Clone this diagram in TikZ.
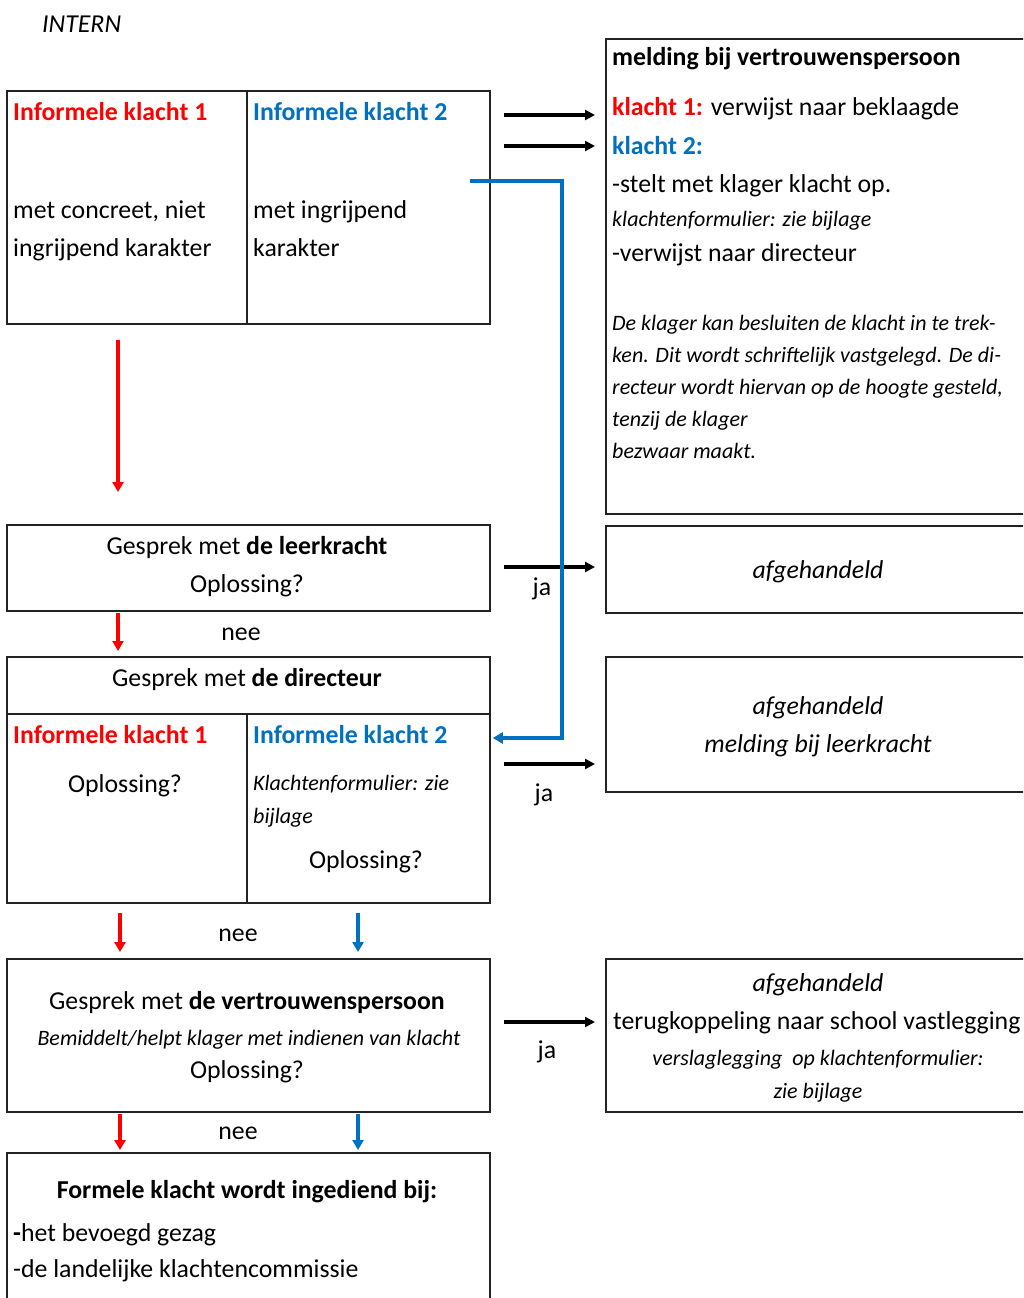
\documentclass[tikz,border=0pt]{standalone}
\usepackage{fontspec}
\setmainfont{Carlito}
\usetikzlibrary{arrows.meta}
\definecolor{kred}{RGB}{255,0,0}
\definecolor{kblue}{RGB}{0,112,192}
\definecolor{kline}{RGB}{35,35,35}
\begin{document}
\begin{tikzpicture}[x=1pt,y=-1pt,
  box/.style={draw=kline,line width=1.8pt,rectangle,anchor=north west,inner sep=0},
  txt/.style={inner sep=0,font=\fontsize{25.8}{31}\selectfont},
  tl/.style={txt,anchor=base west},
  tc/.style={txt,anchor=base},
  sm/.style={inner sep=0,font=\fontsize{22}{26}\selectfont\itshape},
  sml/.style={sm,anchor=base west},
  smc/.style={sm,anchor=base},
  blk/.style={draw=black,line width=3.4pt,-{Triangle[length=10pt,width=10pt]}},
  redarr/.style={draw=kred,line width=3.4pt,-{Triangle[length=10pt,width=11pt]}},
  bluearr/.style={draw=kblue,line width=3.4pt,-{Triangle[length=10pt,width=11pt]}}]
\clip (0,0) rectangle (1023,1298);
\fill[white] (0,0) rectangle (1023,1298);

% title
\node[tl,font=\fontsize{25.8}{31}\selectfont\itshape] (intern) at (42,33) {INTERN};

% top-left boxes
\node[box,minimum width=240,minimum height=233] (b1a) at (6,90) {};
\node[box,minimum width=243,minimum height=233] (b1b) at (246,90) {};
\node[tl,text=kred,font=\fontsize{25.8}{31}\selectfont\bfseries] (k1a) at (13,120) {Informele klacht 1};
\node[tl,text=kblue,font=\fontsize{25.8}{31}\selectfont\bfseries] (k2a) at (253,120) {Informele klacht 2};
\node[tl] (t1) at (13,218) {met concreet, niet};
\node[tl] (t2) at (13,256) {ingrijpend karakter};
\node[tl] (t3) at (253,218) {met ingrijpend};
\node[tl] (t4) at (253,256) {karakter};

% melding box
\node[box,minimum width=430,minimum height=475] (mv) at (605,38) {};
\node[tl,font=\fontsize{25.8}{31}\selectfont\bfseries] (m1) at (612,66) {melding bij vertrouwenspersoon};
\node[tl] (m2) at (612,115) {\textcolor{kred}{\bfseries klacht 1:} verwijst naar beklaagde};
\node[tl,text=kblue,font=\fontsize{25.8}{31}\selectfont\bfseries] (m3) at (612,154) {klacht 2:};
\node[tl] (m4) at (612,192) {-stelt met klager klacht op.};
\node[sml] (m5) at (612,226) {klachtenformulier: zie bijlage};
\node[tl] (m6) at (612,261) {-verwijst naar directeur};
\node[sml] (m7) at (612,330) {De klager kan besluiten de klacht in te trek-};
\node[sml] (m8) at (612,362) {ken. Dit wordt schriftelijk vastgelegd. De di-};
\node[sml] (m9) at (612,394) {recteur wordt hiervan op de hoogte gesteld,};
\node[sml] (m10) at (612,426) {tenzij de klager};
\node[sml] (m11) at (612,458) {bezwaar maakt.};

% leerkracht
\node[box,minimum width=483,minimum height=86] (leer) at (6,524) {};
\node[tc] (l1) at (247,554) {Gesprek met \textbf{de leerkracht}};
\node[tc] (l2) at (247,592) {Oplossing?};
\node[box,minimum width=430,minimum height=87] (af1) at (605,525) {};
\node[tc,font=\fontsize{25.8}{31}\selectfont\itshape] (a1) at (818,578) {afgehandeld};
\node[tc] (ja1) at (542,595) {ja};
\node[tc] (nee1) at (241,640) {nee};

% directeur
\node[box,minimum width=483,minimum height=57] (d0) at (6,656) {};
\node[box,minimum width=240,minimum height=189] (d1) at (6,713) {};
\node[box,minimum width=243,minimum height=189] (d2) at (246,713) {};
\node[tc] (dd) at (247,686) {Gesprek met \textbf{de directeur}};
\node[tl,text=kred,font=\fontsize{25.8}{31}\selectfont\bfseries] (k1b) at (13,743) {Informele klacht 1};
\node[tl,text=kblue,font=\fontsize{25.8}{31}\selectfont\bfseries] (k2b) at (253,743) {Informele klacht 2};
\node[tc] (o1) at (125,792) {Oplossing?};
\node[sml] (kf1) at (253,790) {Klachtenformulier: zie};
\node[sml] (kf2) at (253,823) {bijlage};
\node[tc] (o2) at (366,868) {Oplossing?};
\node[box,minimum width=430,minimum height=135] (af2) at (605,656) {};
\node[tc,font=\fontsize{25.8}{31}\selectfont\itshape] (a2) at (818,714) {afgehandeld};
\node[tc,font=\fontsize{25.8}{31}\selectfont\itshape] (a3) at (818,752) {melding bij leerkracht};
\node[tc] (ja2) at (544,801) {ja};
\node[tc] (nee2) at (238,941) {nee};

% vertrouwenspersoon
\node[box,minimum width=483,minimum height=153] (vp) at (6,958) {};
\node[tc] (v1) at (247,1009) {Gesprek met \textbf{de vertrouwenspersoon}};
\node[smc] (v2) at (249,1045) {Bemiddelt/helpt klager met indienen van klacht};
\node[tc] (v3) at (247,1078) {Oplossing?};
\node[box,minimum width=430,minimum height=153] (af3) at (605,958) {};
\node[tc,font=\fontsize{25.8}{31}\selectfont\itshape] (a4) at (818,991) {afgehandeld};
\node[tl] (a5) at (613,1029) {terugkoppeling naar school vastlegging};
\node[smc] (a6) at (818,1065) {verslaglegging\ \ op klachtenformulier:};
\node[smc] (a7) at (818,1098) {zie bijlage};
\node[tc] (ja3) at (547,1058) {ja};
\node[tc] (nee3) at (238,1139) {nee};

% formele klacht
\node[box,minimum width=483,minimum height=170] (fk) at (6,1152) {};
\node[tc,font=\fontsize{25.8}{31}\selectfont\bfseries] (f1) at (247,1198) {Formele klacht wordt ingediend bij:};
\node[tl] (f2) at (13,1241) {\textbf{-}het bevoegd gezag};
\node[tl] (f3) at (13,1277) {-de landelijke klachtencommissie};

% black arrows
\draw[blk,shorten <=13pt,shorten >=10pt] (b1b.east |- 0,115) -- (mv.west |- 0,115);
\draw[blk,shorten <=13pt,shorten >=10pt] (b1b.east |- 0,146) -- (mv.west |- 0,146);
\draw[blk,shorten <=13pt,shorten >=10pt] (leer.east |- 0,567) -- (af1.west |- 0,567);
\draw[blk,shorten <=13pt,shorten >=10pt] (d2.east |- 0,764) -- (af2.west |- 0,764);
\draw[blk,shorten <=13pt,shorten >=10pt] (vp.east |- 0,1022) -- (af3.west |- 0,1022);

% blue route
\coordinate (bs) at (470,181);
\coordinate (bt) at (562,738);
\draw[bluearr,shorten >=2pt] (bs) -| (bt) -- (d2.east |- bt);

% red / blue down arrows
\draw[redarr,shorten <=15pt,shorten >=32pt] (b1a.south -| 118,0) -- (leer.north -| 118,0);
\draw[redarr,shorten <=1pt,shorten >=5pt] (leer.south -| 118,0) -- (d0.north -| 118,0);
\draw[redarr,shorten <=9pt,shorten >=6pt] (d1.south -| 120,0) -- (vp.north -| 120,0);
\draw[bluearr,shorten <=9pt,shorten >=6pt] (d2.south -| 358,0) -- (vp.north -| 358,0);
\draw[redarr,shorten <=1pt,shorten >=2pt] (vp.south -| 120,0) -- (fk.north -| 120,0);
\draw[bluearr,shorten <=1pt,shorten >=2pt] (vp.south -| 358,0) -- (fk.north -| 358,0);
\end{tikzpicture}
\end{document}
